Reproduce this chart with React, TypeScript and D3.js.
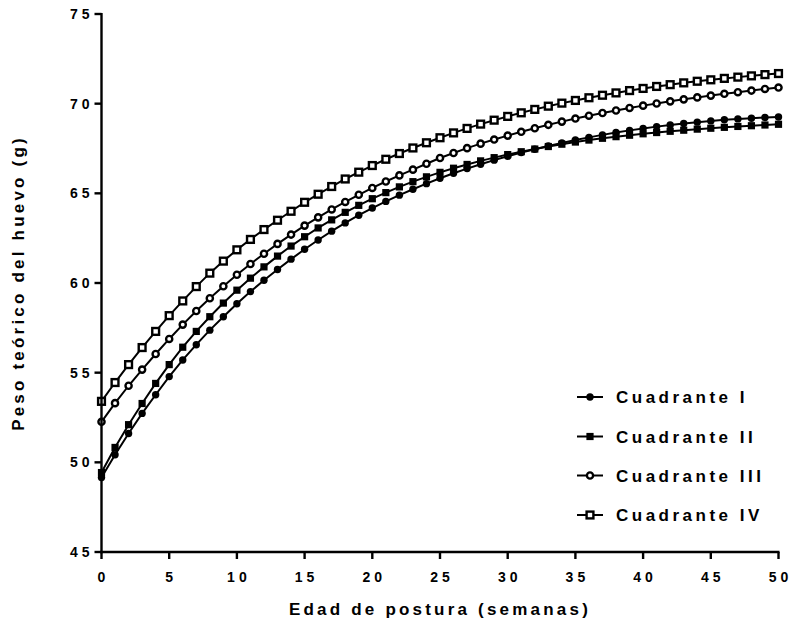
import React from "react";
import * as d3 from "d3";

const weeks: number[] = d3.range(0, 51);

const cuadranteI: number[] = [
  49.15, 50.42, 51.61, 52.73, 53.77, 54.78, 55.71, 56.56, 57.37, 58.12,
  58.84, 59.52, 60.15, 60.75, 61.33, 61.88, 62.4, 62.89, 63.35, 63.78,
  64.18, 64.55, 64.9, 65.23, 65.54, 65.84, 66.12, 66.38, 66.62, 66.85,
  67.07, 67.27, 67.46, 67.64, 67.81, 67.97, 68.12, 68.26, 68.39, 68.51,
  68.62, 68.72, 68.81, 68.89, 68.97, 69.04, 69.1, 69.15, 69.19, 69.23, 69.26,
];

const cuadranteII: number[] = [
  49.43, 50.83, 52.1, 53.28, 54.4, 55.45, 56.42, 57.3, 58.12, 58.88,
  59.6, 60.27, 60.9, 61.5, 62.06, 62.58, 63.07, 63.52, 63.94, 64.33,
  64.7, 65.04, 65.36, 65.65, 65.92, 66.17, 66.4, 66.61, 66.81, 66.99,
  67.16, 67.32, 67.47, 67.61, 67.74, 67.86, 67.97, 68.07, 68.16, 68.24,
  68.32, 68.39, 68.46, 68.52, 68.58, 68.63, 68.68, 68.73, 68.77, 68.81, 68.85,
];

const cuadranteIII: number[] = [
  52.26, 53.3, 54.27, 55.17, 56.04, 56.88, 57.68, 58.44, 59.15, 59.82,
  60.46, 61.06, 61.63, 62.18, 62.7, 63.2, 63.66, 64.1, 64.52, 64.92,
  65.3, 65.66, 66.0, 66.32, 66.65, 66.97, 67.25, 67.52, 67.77, 68.0,
  68.22, 68.43, 68.63, 68.82, 69.0, 69.17, 69.33, 69.48, 69.62, 69.76,
  69.89, 70.01, 70.13, 70.24, 70.35, 70.45, 70.55, 70.64, 70.73, 70.82, 70.9,
];

const cuadranteIV: number[] = [
  53.4, 54.45, 55.45, 56.4, 57.3, 58.18, 59.0, 59.8, 60.55, 61.22,
  61.85, 62.43, 62.98, 63.5, 64.0, 64.5, 64.95, 65.38, 65.8, 66.18,
  66.55, 66.9, 67.22, 67.53, 67.82, 68.1, 68.37, 68.62, 68.86, 69.08,
  69.29, 69.49, 69.68, 69.86, 70.03, 70.18, 70.33, 70.47, 70.6, 70.73,
  70.85, 70.96, 71.06, 71.16, 71.25, 71.33, 71.41, 71.48, 71.55, 71.62, 71.68,
];

const seriesNames: string[] = ["Cuadrante I", "Cuadrante II", "Cuadrante III", "Cuadrante IV"];
const seriesValues: number[][] = [cuadranteI, cuadranteII, cuadranteIII, cuadranteIV];
const markerKinds: string[] = ["circleFilled", "squareFilled", "circleOpen", "squareOpen"];

const xTicks: number[] = [0, 5, 10, 15, 20, 25, 30, 35, 40, 45, 50];
const yTicks: number[] = [45, 50, 55, 60, 65, 70, 75];
const xTitle = "Edad de postura (semanas)";
const yTitle = "Peso teórico del huevo (g)";

const W = 791;
const H = 624;
const FONT = "'Liberation Sans', Arial, Helvetica, sans-serif";

function Marker({ kind, x, y }: { kind: string; x: number; y: number }) {
  if (kind === "circleFilled") return <circle cx={x} cy={y} r={3.7} fill="#000" />;
  if (kind === "squareFilled")
    return <rect x={x - 3.6} y={y - 3.6} width={7.2} height={7.2} fill="#000" />;
  if (kind === "circleOpen")
    return <circle cx={x} cy={y} r={3.1} fill="#fff" stroke="#000" strokeWidth={2.4} />;
  return <rect x={x - 3.4} y={y - 3.4} width={6.8} height={6.8} fill="#fff" stroke="#000" strokeWidth={2.4} />;
}

export default function App() {
  const x = d3.scaleLinear().domain([0, 50]).range([101.5, 778.5]);
  const y = d3.scaleLinear().domain([45, 75]).range([552, 14]);
  const line = d3
    .line<number>()
    .x((_, i) => x(weeks[i]))
    .y((d) => y(d));

  const legendX = 590;
  const legendY = [397, 436.5, 475.5, 515];

  return (
    <svg
      width={W}
      height={H}
      style={{ position: "absolute", left: 0, top: 0, background: "#fff" }}
      fontFamily={FONT}
    >
      <rect width={W} height={H} fill="#fff" />
      {seriesValues.map((vals, s) => (
        <g key={s}>
          <path d={line(vals) || ""} fill="none" stroke="#000" strokeWidth={2} />
          {vals.map((v, i) => (
            <Marker key={i} kind={markerKinds[s]} x={x(weeks[i])} y={y(v)} />
          ))}
        </g>
      ))}

      {/* axes */}
      <line x1={x(0)} x2={x(0)} y1={y(75) - 1} y2={y(45) + 1.2} stroke="#000" strokeWidth={2.4} />
      <line x1={x(0) - 1.2} x2={x(50) + 1} y1={y(45)} y2={y(45)} stroke="#000" strokeWidth={2.4} />
      {yTicks.map((t) => (
        <g key={t}>
          <line x1={x(0) - 7} x2={x(0)} y1={y(t)} y2={y(t)} stroke="#000" strokeWidth={2.4} />
          <text
            x={x(0) - 8}
            y={y(t) + 5}
            textAnchor="end"
            fontSize={14}
            fontWeight="bold"
            letterSpacing={4}
          >
            {String(t)}
          </text>
        </g>
      ))}
      {xTicks.map((t) => (
        <g key={t}>
          <line x1={x(t)} x2={x(t)} y1={y(45)} y2={y(45) + 7} stroke="#000" strokeWidth={2.4} />
          <text
            x={x(t) + 2}
            y={582}
            textAnchor="middle"
            fontSize={14}
            fontWeight="bold"
            letterSpacing={4}
          >
            {String(t)}
          </text>
        </g>
      ))}

      <text
        x={(x(0) + x(50)) / 2}
        y={615}
        textAnchor="middle"
        fontSize={17}
        fontWeight="bold"
        letterSpacing={3.2}
      >
        {xTitle}
      </text>
      <text
        transform={`translate(24, ${(y(45) + y(75)) / 2}) rotate(-90)`}
        textAnchor="middle"
        fontSize={17}
        fontWeight="bold"
        letterSpacing={3.2}
      >
        {yTitle}
      </text>

      {/* legend */}
      {seriesNames.map((name, s) => (
        <g key={name}>
          <line x1={legendX - 13} x2={legendX + 13} y1={legendY[s]} y2={legendY[s]} stroke="#000" strokeWidth={2} />
          <Marker kind={markerKinds[s]} x={legendX} y={legendY[s]} />
          <text
            x={616}
            y={legendY[s] + 6}
            fontSize={17}
            fontWeight="bold"
            letterSpacing={3.5}
          >
            {name}
          </text>
        </g>
      ))}
    </svg>
  );
}
